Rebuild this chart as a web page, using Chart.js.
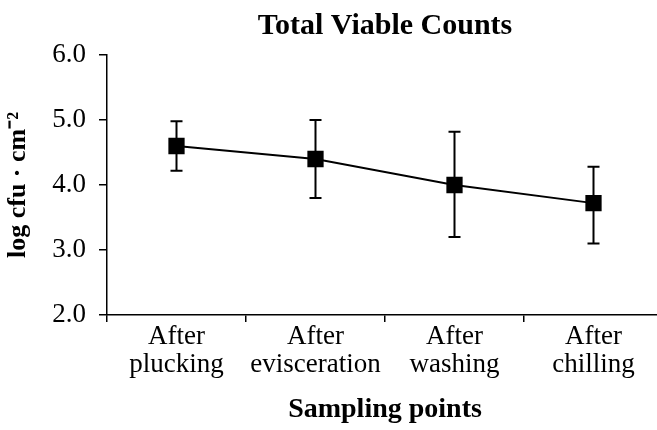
<!DOCTYPE html>
<html>
<head>
<meta charset="utf-8">
<script src="https://cdn.jsdelivr.net/npm/chart.js@4.4.1/dist/chart.umd.min.js"></script>
<style>
  html, body { margin: 0; padding: 0; background: #fff; overflow: hidden; }
  #wrap { position: relative; width: 770px; height: 430px; }
</style>
</head>
<body>
<div id="wrap"><canvas id="chart"></canvas></div>
<script>
// Punti di campionamento
const categories = [["After", "plucking"], ["After", "evisceration"], ["After", "washing"], ["After", "chilling"]];
// Media log cfu/cm2
const meanValues = [4.6, 4.4, 4.0, 3.72];
// Estremi barre di errore
const errHigh = [4.98, 5.0, 4.82, 4.28];
const errLow = [4.22, 3.8, 3.2, 3.1];
// Tick asse Y
const yTicks = [2, 3, 4, 5, 6];

const serif = "'Liberation Serif', 'Times New Roman', serif";

// Disegna le barre di errore sotto i marker
const errorBars = {
  id: "errorBars",
  beforeDatasetsDraw(chart) {
    const ctx = chart.ctx;
    const x = chart.scales.x;
    const y = chart.scales.y;
    ctx.save();
    ctx.strokeStyle = "#000";
    ctx.lineWidth = 2;
    meanValues.forEach((v, i) => {
      const px = x.getPixelForValue(i);
      const top = y.getPixelForValue(errHigh[i]);
      const bot = y.getPixelForValue(errLow[i]);
      ctx.beginPath();
      ctx.moveTo(px, top);
      ctx.lineTo(px, bot);
      ctx.moveTo(px - 6, top);
      ctx.lineTo(px + 6, top);
      ctx.moveTo(px - 6, bot);
      ctx.lineTo(px + 6, bot);
      ctx.stroke();
    });
    ctx.restore();
  }
};

// Centra il titolo sull'area del grafico
const centerTitle = {
  id: "centerTitle",
  afterLayout(chart) {
    if (chart.titleBlock) {
      chart.titleBlock.left = chart.chartArea.left;
      chart.titleBlock.right = chart.chartArea.right;
    }
  }
};

new Chart(document.getElementById("chart"), {
  type: "line",
  data: {
    labels: categories,
    datasets: [{
      data: meanValues,
      borderColor: "#000",
      borderWidth: 1.8,
      pointStyle: "rect",
      pointRadius: 11.5,
      pointBackgroundColor: "#000",
      pointBorderColor: "#000",
      pointBorderWidth: 0,
      tension: 0,
      fill: false
    }]
  },
  options: {
    responsive: true,
    maintainAspectRatio: false,
    animation: false,
    layout: { padding: { left: 0, right: 107, top: 0, bottom: 0 } },
    plugins: {
      legend: { display: false },
      tooltip: { enabled: false },
      title: {
        display: true,
        text: "Total Viable Counts",
        color: "#000",
        font: { family: serif, size: 30, weight: "bold" },
        padding: { top: 8, bottom: 11 }
      }
    },
    scales: {
      x: {
        type: "category",
        offset: true,
        afterFit(scale) { scale.height = 115; },
        border: { color: "#000", width: 1.5 },
        grid: { offset: true, drawOnChartArea: false, color: "#000", lineWidth: 1.5, tickLength: 7 },
        ticks: {
          color: "#000",
          font: { family: serif, size: 27, lineHeight: 1.04 },
          padding: 1,
          maxRotation: 0,
          autoSkip: false
        },
        title: {
          display: true,
          text: "Sampling points",
          color: "#000",
          font: { family: serif, size: 28, weight: "bold" },
          padding: { top: 0, bottom: 3 }
        }
      },
      y: {
        min: yTicks[0],
        max: yTicks[yTicks.length - 1],
        afterFit(scale) { scale.width = 107; },
        afterBuildTicks(scale) { scale.ticks = yTicks.map(v => ({ value: v })); },
        border: { color: "#000", width: 1.5 },
        grid: { drawOnChartArea: false, color: "#000", lineWidth: 1.5, tickLength: 8 },
        ticks: {
          color: "#000",
          font: { family: serif, size: 27 },
          padding: 13,
          callback: v => Number(v).toFixed(1)
        },
        title: {
          display: true,
          text: "log cfu · cm⁻²",
          color: "#000",
          font: { family: serif, size: 26, weight: "bold" },
          padding: { top: 3, bottom: 0 }
        }
      }
    }
  },
  plugins: [errorBars, centerTitle]
});
</script>
</body>
</html>
